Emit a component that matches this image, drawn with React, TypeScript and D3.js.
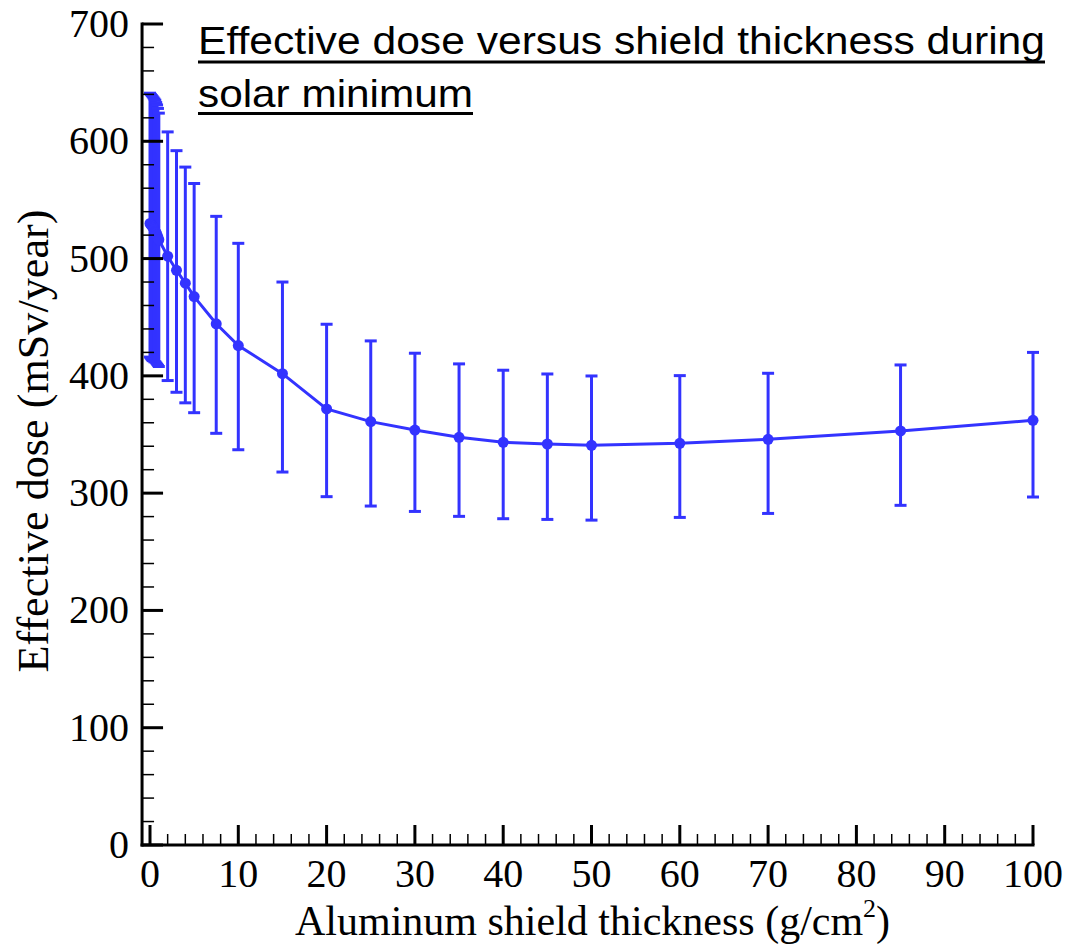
import React from "react";
import * as d3 from "d3";

const thickness = [0, 0.1, 0.2, 0.3, 0.4, 0.5, 0.6, 0.7, 0.8, 0.9, 1, 2, 3, 4, 5, 7.5, 10, 15, 20, 25, 30, 35, 40, 45, 50, 60, 70, 85, 100];
const dose = [530, 529, 528, 527, 526, 525, 523, 522, 520, 518, 516, 502, 490, 479, 467.6, 444.4, 425.8, 401.9, 371.8, 361, 353.8, 347.6, 343.3, 341.9, 340.8, 342.5, 345.9, 353, 362.1];
const upper = [641, 640, 639, 638, 637, 636, 635, 633, 631, 628, 624, 608, 592, 578, 564, 536, 513, 480, 444, 429.8, 419.3, 410.2, 404.8, 401.6, 399.9, 400.2, 402.2, 409.3, 420];
const lower = [416, 415, 414, 413, 413, 412, 412, 411, 410, 409, 408, 396, 386, 377, 368.6, 351, 337, 318, 297, 289, 284.4, 280.2, 278.2, 277.6, 277, 279.3, 282.7, 289.6, 296.7];

const xMajor = [0, 10, 20, 30, 40, 50, 60, 70, 80, 90, 100];
const yMajor = [0, 100, 200, 300, 400, 500, 600, 700];

const titleLines = ["Effective dose versus shield thickness during", "solar minimum"];
const xTitle = "Aluminum shield thickness (g/cm";
const yTitle = "Effective dose (mSv/year)";

const BLUE = "#3333ff";

export default function App() {
  const x = d3.scaleLinear().domain([0, 100]).range([150, 1033]);
  const y = d3.scaleLinear().domain([0, 700]).range([845, 24]);
  const xMinor = d3.range(0, 100.001, 2).filter((v) => v % 10 !== 0);
  const yMinor = d3.range(0, 700.001, 20).filter((v) => v % 100 !== 0);
  const pts = thickness.map((t, i) => ({ t, d: dose[i], u: upper[i], l: lower[i] }));
  const line = d3
    .line<{ t: number; d: number }>()
    .x((p) => x(p.t))
    .y((p) => y(p.d));
  const serif = "'Liberation Serif', 'Times New Roman', serif";
  const sans = "'Liberation Sans', Arial, sans-serif";
  const x0 = x(-0.9);
  const cap = 6;

  return (
    <svg
      width={1071}
      height={947}
      style={{ position: "absolute", left: 0, top: 0, background: "#fff" }}
    >
      <rect x={0} y={0} width={1071} height={947} fill="#fff" />
      {/* error bars */}
      {pts.map((p, i) => (
        <g key={"e" + i} stroke={BLUE} strokeWidth={3} fill="none">
          <line x1={x(p.t)} x2={x(p.t)} y1={y(p.u)} y2={y(p.l)} />
          <line x1={x(p.t) - cap} x2={x(p.t) + cap} y1={y(p.u)} y2={y(p.u)} />
          <line x1={x(p.t) - cap} x2={x(p.t) + cap} y1={y(p.l)} y2={y(p.l)} />
        </g>
      ))}
      <path d={line(pts) || ""} stroke={BLUE} strokeWidth={3} fill="none" />
      {pts.map((p, i) => (
        <circle key={"c" + i} cx={x(p.t)} cy={y(p.d)} r={5.5} fill={BLUE} />
      ))}

      {/* axes */}
      <g stroke="#000">
        <line x1={x0} x2={x0} y1={y(700) - 1.5} y2={y(0) + 1.5} strokeWidth={3} />
        <line x1={x0 - 1.5} x2={x(100) + 1.5} y1={y(0)} y2={y(0)} strokeWidth={3} />
        {yMajor.map((v) => (
          <line key={"ym" + v} x1={x0} x2={x0 + 21} y1={y(v)} y2={y(v)} strokeWidth={3} />
        ))}
        {yMinor.map((v) => (
          <line key={"yn" + v} x1={x0} x2={x0 + 12} y1={y(v)} y2={y(v)} strokeWidth={1.5} />
        ))}
        {xMajor.map((v) => (
          <line key={"xm" + v} x1={x(v)} x2={x(v)} y1={y(0)} y2={y(0) - 20} strokeWidth={3} />
        ))}
        {xMinor.map((v) => (
          <line key={"xn" + v} x1={x(v)} x2={x(v)} y1={y(0)} y2={y(0) - 11} strokeWidth={1.5} />
        ))}
      </g>
      <g fontFamily={serif} fontSize={40} fill="#000">
        {yMajor.map((v) => (
          <text key={"yl" + v} x={129} y={y(v) + 13} textAnchor="end">
            {v}
          </text>
        ))}
        {xMajor.map((v) => (
          <text key={"xl" + v} x={x(v)} y={887} textAnchor="middle">
            {v}
          </text>
        ))}
      </g>
      <text x={295} y={935} fontFamily={serif} fontSize={42} fill="#000">
        {xTitle}
        <tspan fontSize={26} dy={-18}>2</tspan>
        <tspan dy={18}>)</tspan>
      </text>
      <text
        transform={`translate(48,441) rotate(-90)`}
        textAnchor="middle"
        fontFamily={serif}
        fontSize={45}
        fill="#000"
        textLength={463}
        lengthAdjust="spacingAndGlyphs"
      >
        {yTitle}
      </text>
      {/* title */}
      <g fontFamily={sans} fontSize={39} fill="#000">
        <text x={198} y={54} textLength={847} lengthAdjust="spacingAndGlyphs">
          {titleLines[0]}
        </text>
        <text x={198} y={107} textLength={275} lengthAdjust="spacingAndGlyphs">
          {titleLines[1]}
        </text>
      </g>
      <line x1={198} x2={1045} y1={62} y2={62} stroke="#000" strokeWidth={3} />
      <line x1={198} x2={473} y1={113.5} y2={113.5} stroke="#000" strokeWidth={3} />
    </svg>
  );
}
